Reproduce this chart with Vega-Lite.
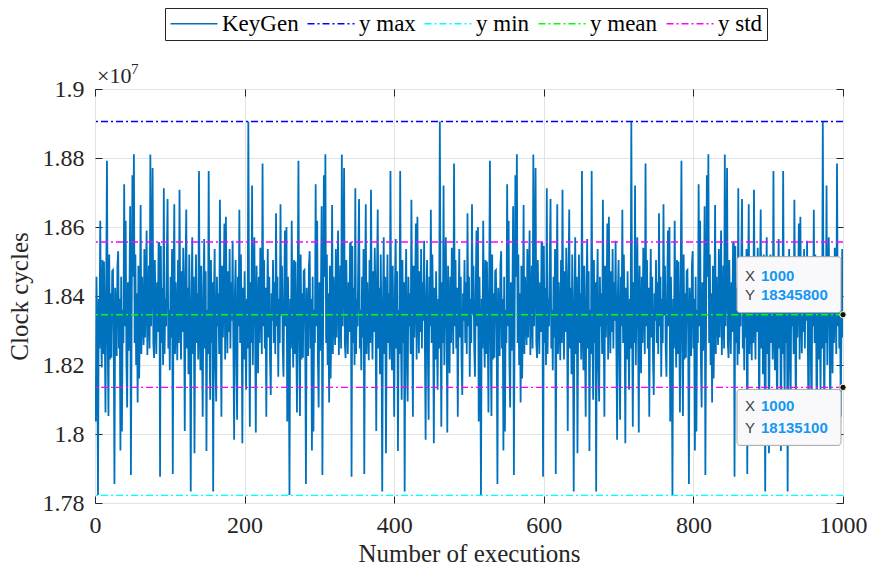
{
"$schema":"https://vega.github.io/schema/vega-lite/v6.json",
"width":748,"height":414,
"autosize":{"type":"none"},
"padding":{"left":95,"top":89,"right":28,"bottom":71},
"background":"white",
"config":{"view":{"stroke":"#262626","strokeWidth":1},"font":"Liberation Serif"},
"datasets":{
"ref":[{"s":"y max","v":18906},{"s":"y min","v":17822},{"s":"y mean","v":18345.8},{"s":"y std","v":18556.5},{"s":"y std","v":18135.1}],
"tip1":[{"x":1000,"y":18345.8,"xs":"1000","ys":"18345800"}],
"tip2":[{"x":1000,"y":18135.1,"xs":"1000","ys":"18135100"}],
"corner":[{"x":0,"y":19000}],
"kg":[
{"x":1,"y":18036},{"x":2,"y":18456},{"x":3,"y":18280},{"x":4,"y":17823},{"x":5,"y":18392},{"x":6,"y":18248},{"x":7,"y":18618},{"x":8,"y":18328},{"x":9,"y":18193},{"x":10,"y":18504},{"x":11,"y":18232},{"x":12,"y":18500},{"x":13,"y":18312},{"x":14,"y":18062},{"x":15,"y":18440},{"x":16,"y":18792},{"x":17,"y":18264},{"x":18,"y":18052},{"x":19,"y":18520},{"x":20,"y":18216},{"x":21,"y":18408},{"x":22,"y":18221},{"x":23,"y":18472},{"x":24,"y":18475},{"x":25,"y":18296},{"x":26,"y":17855},{"x":27,"y":18424},{"x":28,"y":18344},{"x":29,"y":18226},{"x":30,"y":18488},{"x":31,"y":18530},{"x":32,"y":18248},{"x":33,"y":18392},{"x":34,"y":17952},{"x":35,"y":18456},{"x":36,"y":18007},{"x":37,"y":18360},{"x":38,"y":18264},{"x":39,"y":18724},{"x":40,"y":18312},{"x":41,"y":18618},{"x":42,"y":18216},{"x":43,"y":18077},{"x":44,"y":18440},{"x":45,"y":18241},{"x":46,"y":18392},{"x":47,"y":18660},{"x":48,"y":17881},{"x":49,"y":18344},{"x":50,"y":18750},{"x":51,"y":18456},{"x":52,"y":18811},{"x":53,"y":18264},{"x":54,"y":18520},{"x":55,"y":18200},{"x":56,"y":18408},{"x":57,"y":18091},{"x":58,"y":18488},{"x":59,"y":18161},{"x":60,"y":18312},{"x":61,"y":18664},{"x":62,"y":18232},{"x":63,"y":18456},{"x":64,"y":18344},{"x":65,"y":18258},{"x":66,"y":18536},{"x":67,"y":18280},{"x":68,"y":18424},{"x":69,"y":18590},{"x":70,"y":18229},{"x":71,"y":18360},{"x":72,"y":18488},{"x":73,"y":18248},{"x":74,"y":18810},{"x":75,"y":18312},{"x":76,"y":18456},{"x":77,"y":18771},{"x":78,"y":18264},{"x":79,"y":18220},{"x":80,"y":18504},{"x":81,"y":18344},{"x":82,"y":18232},{"x":83,"y":18440},{"x":84,"y":18296},{"x":85,"y":18552},{"x":86,"y":18556},{"x":87,"y":17876},{"x":88,"y":18545},{"x":89,"y":18264},{"x":90,"y":18424},{"x":91,"y":18200},{"x":92,"y":18712},{"x":93,"y":18232},{"x":94,"y":18392},{"x":95,"y":18312},{"x":96,"y":18504},{"x":97,"y":18681},{"x":98,"y":18248},{"x":99,"y":18360},{"x":100,"y":18185},{"x":101,"y":18456},{"x":102,"y":18280},{"x":103,"y":18536},{"x":104,"y":17884},{"x":105,"y":18408},{"x":106,"y":18666},{"x":107,"y":18232},{"x":108,"y":18440},{"x":109,"y":18328},{"x":110,"y":18214},{"x":111,"y":18504},{"x":112,"y":18264},{"x":113,"y":18708},{"x":114,"y":18344},{"x":115,"y":18216},{"x":116,"y":18472},{"x":117,"y":18296},{"x":118,"y":18540},{"x":119,"y":18392},{"x":120,"y":18009},{"x":121,"y":18456},{"x":122,"y":18651},{"x":123,"y":18248},{"x":124,"y":18424},{"x":125,"y":18173},{"x":126,"y":18520},{"x":127,"y":18312},{"x":128,"y":17833},{"x":129,"y":18376},{"x":130,"y":18570},{"x":131,"y":18232},{"x":132,"y":18456},{"x":133,"y":17944},{"x":134,"y":18344},{"x":135,"y":18520},{"x":136,"y":18264},{"x":137,"y":18408},{"x":138,"y":18216},{"x":139,"y":18762},{"x":140,"y":18312},{"x":141,"y":18185},{"x":142,"y":18488},{"x":143,"y":18280},{"x":144,"y":18050},{"x":145,"y":18424},{"x":146,"y":18565},{"x":147,"y":18248},{"x":148,"y":18472},{"x":149,"y":17951},{"x":150,"y":18360},{"x":151,"y":18232},{"x":152,"y":18762},{"x":153,"y":18296},{"x":154,"y":18099},{"x":155,"y":18504},{"x":156,"y":18264},{"x":157,"y":18440},{"x":158,"y":17833},{"x":159,"y":18392},{"x":160,"y":18536},{"x":161,"y":18200},{"x":162,"y":18094},{"x":163,"y":18456},{"x":164,"y":18312},{"x":165,"y":18408},{"x":166,"y":18232},{"x":167,"y":18679},{"x":168,"y":18344},{"x":169,"y":18050},{"x":170,"y":18488},{"x":171,"y":18280},{"x":172,"y":18424},{"x":173,"y":18610},{"x":174,"y":18216},{"x":175,"y":18630},{"x":176,"y":18360},{"x":177,"y":18234},{"x":178,"y":18472},{"x":179,"y":18296},{"x":180,"y":18536},{"x":181,"y":18248},{"x":182,"y":18440},{"x":183,"y":18328},{"x":184,"y":18560},{"x":185,"y":18264},{"x":186,"y":17983},{"x":187,"y":18408},{"x":188,"y":18504},{"x":189,"y":18232},{"x":190,"y":18041},{"x":191,"y":18456},{"x":192,"y":18312},{"x":193,"y":18650},{"x":194,"y":18264},{"x":195,"y":18520},{"x":196,"y":18344},{"x":197,"y":17973},{"x":198,"y":18424},{"x":199,"y":18216},{"x":200,"y":18472},{"x":201,"y":18296},{"x":202,"y":18128},{"x":203,"y":18392},{"x":204,"y":18248},{"x":205,"y":18906},{"x":206,"y":18344},{"x":207,"y":18021},{"x":208,"y":18440},{"x":209,"y":18264},{"x":210,"y":18720},{"x":211,"y":18200},{"x":212,"y":18408},{"x":213,"y":18570},{"x":214,"y":18312},{"x":215,"y":18004},{"x":216,"y":18488},{"x":217,"y":18344},{"x":218,"y":18176},{"x":219,"y":18456},{"x":220,"y":18264},{"x":221,"y":18540},{"x":222,"y":18392},{"x":223,"y":18232},{"x":224,"y":18784},{"x":225,"y":18312},{"x":226,"y":18504},{"x":227,"y":18248},{"x":228,"y":18424},{"x":229,"y":18050},{"x":230,"y":18360},{"x":231,"y":18536},{"x":232,"y":18280},{"x":233,"y":18456},{"x":234,"y":18216},{"x":235,"y":18113},{"x":236,"y":18408},{"x":237,"y":18328},{"x":238,"y":18504},{"x":239,"y":18264},{"x":240,"y":18440},{"x":241,"y":18232},{"x":242,"y":18640},{"x":243,"y":18312},{"x":244,"y":18456},{"x":245,"y":18166},{"x":246,"y":18392},{"x":247,"y":18264},{"x":248,"y":18666},{"x":249,"y":18344},{"x":250,"y":18488},{"x":251,"y":18248},{"x":252,"y":18166},{"x":253,"y":18424},{"x":254,"y":18590},{"x":255,"y":18312},{"x":256,"y":18600},
{"x":257,"y":18036},{"x":258,"y":18456},{"x":259,"y":18280},{"x":260,"y":17823},{"x":261,"y":18392},{"x":262,"y":18248},{"x":263,"y":18618},{"x":264,"y":18328},{"x":265,"y":18193},{"x":266,"y":18504},{"x":267,"y":18232},{"x":268,"y":18500},{"x":269,"y":18312},{"x":270,"y":18062},{"x":271,"y":18440},{"x":272,"y":18792},{"x":273,"y":18264},{"x":274,"y":18052},{"x":275,"y":18520},{"x":276,"y":18216},{"x":277,"y":18408},{"x":278,"y":18221},{"x":279,"y":18472},{"x":280,"y":18475},{"x":281,"y":18296},{"x":282,"y":17855},{"x":283,"y":18424},{"x":284,"y":18344},{"x":285,"y":18226},{"x":286,"y":18488},{"x":287,"y":18530},{"x":288,"y":18248},{"x":289,"y":18392},{"x":290,"y":17952},{"x":291,"y":18456},{"x":292,"y":18007},{"x":293,"y":18360},{"x":294,"y":18264},{"x":295,"y":18724},{"x":296,"y":18312},{"x":297,"y":18618},{"x":298,"y":18216},{"x":299,"y":18077},{"x":300,"y":18440},{"x":301,"y":18241},{"x":302,"y":18392},{"x":303,"y":18660},{"x":304,"y":17881},{"x":305,"y":18344},{"x":306,"y":18750},{"x":307,"y":18456},{"x":308,"y":18811},{"x":309,"y":18264},{"x":310,"y":18520},{"x":311,"y":18200},{"x":312,"y":18408},{"x":313,"y":18091},{"x":314,"y":18488},{"x":315,"y":18161},{"x":316,"y":18312},{"x":317,"y":18664},{"x":318,"y":18232},{"x":319,"y":18456},{"x":320,"y":18344},{"x":321,"y":18258},{"x":322,"y":18536},{"x":323,"y":18280},{"x":324,"y":18424},{"x":325,"y":18590},{"x":326,"y":18229},{"x":327,"y":18360},{"x":328,"y":18488},{"x":329,"y":18248},{"x":330,"y":18810},{"x":331,"y":18312},{"x":332,"y":18456},{"x":333,"y":18771},{"x":334,"y":18264},{"x":335,"y":18220},{"x":336,"y":18504},{"x":337,"y":18344},{"x":338,"y":18232},{"x":339,"y":18440},{"x":340,"y":18296},{"x":341,"y":18552},{"x":342,"y":18556},{"x":343,"y":17876},{"x":344,"y":18545},{"x":345,"y":18264},{"x":346,"y":18424},{"x":347,"y":18200},{"x":348,"y":18712},{"x":349,"y":18232},{"x":350,"y":18392},{"x":351,"y":18312},{"x":352,"y":18504},{"x":353,"y":18681},{"x":354,"y":18248},{"x":355,"y":18360},{"x":356,"y":18185},{"x":357,"y":18456},{"x":358,"y":18280},{"x":359,"y":18536},{"x":360,"y":17884},{"x":361,"y":18408},{"x":362,"y":18666},{"x":363,"y":18232},{"x":364,"y":18440},{"x":365,"y":18328},{"x":366,"y":18214},{"x":367,"y":18504},{"x":368,"y":18264},{"x":369,"y":18708},{"x":370,"y":18344},{"x":371,"y":18216},{"x":372,"y":18472},{"x":373,"y":18296},{"x":374,"y":18540},{"x":375,"y":18392},{"x":376,"y":18009},{"x":377,"y":18456},{"x":378,"y":18651},{"x":379,"y":18248},{"x":380,"y":18424},{"x":381,"y":18173},{"x":382,"y":18520},{"x":383,"y":18312},{"x":384,"y":17833},{"x":385,"y":18376},{"x":386,"y":18570},{"x":387,"y":18232},{"x":388,"y":18456},{"x":389,"y":17944},{"x":390,"y":18344},{"x":391,"y":18520},{"x":392,"y":18264},{"x":393,"y":18408},{"x":394,"y":18216},{"x":395,"y":18762},{"x":396,"y":18312},{"x":397,"y":18185},{"x":398,"y":18488},{"x":399,"y":18280},{"x":400,"y":18050},{"x":401,"y":18424},{"x":402,"y":18565},{"x":403,"y":18248},{"x":404,"y":18472},{"x":405,"y":17951},{"x":406,"y":18360},{"x":407,"y":18232},{"x":408,"y":18762},{"x":409,"y":18296},{"x":410,"y":18099},{"x":411,"y":18504},{"x":412,"y":18264},{"x":413,"y":18440},{"x":414,"y":17833},{"x":415,"y":18392},{"x":416,"y":18536},{"x":417,"y":18200},{"x":418,"y":18094},{"x":419,"y":18456},{"x":420,"y":18312},{"x":421,"y":18408},{"x":422,"y":18232},{"x":423,"y":18679},{"x":424,"y":18344},{"x":425,"y":18050},{"x":426,"y":18488},{"x":427,"y":18280},{"x":428,"y":18424},{"x":429,"y":18610},{"x":430,"y":18216},{"x":431,"y":18630},{"x":432,"y":18360},{"x":433,"y":18234},{"x":434,"y":18472},{"x":435,"y":18296},{"x":436,"y":18536},{"x":437,"y":18248},{"x":438,"y":18440},{"x":439,"y":18328},{"x":440,"y":18560},{"x":441,"y":18264},{"x":442,"y":17983},{"x":443,"y":18408},{"x":444,"y":18504},{"x":445,"y":18232},{"x":446,"y":18041},{"x":447,"y":18456},{"x":448,"y":18312},{"x":449,"y":18650},{"x":450,"y":18264},{"x":451,"y":18520},{"x":452,"y":18344},{"x":453,"y":17973},{"x":454,"y":18424},{"x":455,"y":18216},{"x":456,"y":18472},{"x":457,"y":18296},{"x":458,"y":18128},{"x":459,"y":18392},{"x":460,"y":18248},{"x":461,"y":18906},{"x":462,"y":18344},{"x":463,"y":18021},{"x":464,"y":18440},{"x":465,"y":18264},{"x":466,"y":18720},{"x":467,"y":18200},{"x":468,"y":18408},{"x":469,"y":18570},{"x":470,"y":18312},{"x":471,"y":18004},{"x":472,"y":18488},{"x":473,"y":18344},{"x":474,"y":18176},{"x":475,"y":18456},{"x":476,"y":18264},{"x":477,"y":18540},{"x":478,"y":18392},{"x":479,"y":18232},{"x":480,"y":18784},{"x":481,"y":18312},{"x":482,"y":18504},{"x":483,"y":18248},{"x":484,"y":18424},{"x":485,"y":18050},{"x":486,"y":18360},{"x":487,"y":18536},{"x":488,"y":18280},{"x":489,"y":18456},{"x":490,"y":18216},{"x":491,"y":18113},{"x":492,"y":18408},{"x":493,"y":18328},{"x":494,"y":18504},{"x":495,"y":18264},{"x":496,"y":18440},{"x":497,"y":18232},{"x":498,"y":18640},{"x":499,"y":18312},{"x":500,"y":18456},{"x":501,"y":18166},{"x":502,"y":18392},{"x":503,"y":18264},{"x":504,"y":18666},{"x":505,"y":18344},{"x":506,"y":18488},{"x":507,"y":18248},{"x":508,"y":18166},{"x":509,"y":18424},{"x":510,"y":18590},{"x":511,"y":18312},{"x":512,"y":18600},
{"x":513,"y":18036},{"x":514,"y":18456},{"x":515,"y":18280},{"x":516,"y":17823},{"x":517,"y":18392},{"x":518,"y":18248},{"x":519,"y":18618},{"x":520,"y":18328},{"x":521,"y":18193},{"x":522,"y":18504},{"x":523,"y":18232},{"x":524,"y":18500},{"x":525,"y":18312},{"x":526,"y":18062},{"x":527,"y":18440},{"x":528,"y":18792},{"x":529,"y":18264},{"x":530,"y":18052},{"x":531,"y":18520},{"x":532,"y":18216},{"x":533,"y":18408},{"x":534,"y":18221},{"x":535,"y":18472},{"x":536,"y":18475},{"x":537,"y":18296},{"x":538,"y":17855},{"x":539,"y":18424},{"x":540,"y":18344},{"x":541,"y":18226},{"x":542,"y":18488},{"x":543,"y":18530},{"x":544,"y":18248},{"x":545,"y":18392},{"x":546,"y":17952},{"x":547,"y":18456},{"x":548,"y":18007},{"x":549,"y":18360},{"x":550,"y":18264},{"x":551,"y":18724},{"x":552,"y":18312},{"x":553,"y":18618},{"x":554,"y":18216},{"x":555,"y":18077},{"x":556,"y":18440},{"x":557,"y":18241},{"x":558,"y":18392},{"x":559,"y":18660},{"x":560,"y":17881},{"x":561,"y":18344},{"x":562,"y":18750},{"x":563,"y":18456},{"x":564,"y":18811},{"x":565,"y":18264},{"x":566,"y":18520},{"x":567,"y":18200},{"x":568,"y":18408},{"x":569,"y":18091},{"x":570,"y":18488},{"x":571,"y":18161},{"x":572,"y":18312},{"x":573,"y":18664},{"x":574,"y":18232},{"x":575,"y":18456},{"x":576,"y":18344},{"x":577,"y":18258},{"x":578,"y":18536},{"x":579,"y":18280},{"x":580,"y":18424},{"x":581,"y":18590},{"x":582,"y":18229},{"x":583,"y":18360},{"x":584,"y":18488},{"x":585,"y":18248},{"x":586,"y":18810},{"x":587,"y":18312},{"x":588,"y":18456},{"x":589,"y":18771},{"x":590,"y":18264},{"x":591,"y":18220},{"x":592,"y":18504},{"x":593,"y":18344},{"x":594,"y":18232},{"x":595,"y":18440},{"x":596,"y":18296},{"x":597,"y":18552},{"x":598,"y":18556},{"x":599,"y":17876},{"x":600,"y":18545},{"x":601,"y":18264},{"x":602,"y":18424},{"x":603,"y":18200},{"x":604,"y":18712},{"x":605,"y":18232},{"x":606,"y":18392},{"x":607,"y":18312},{"x":608,"y":18504},{"x":609,"y":18681},{"x":610,"y":18248},{"x":611,"y":18360},{"x":612,"y":18185},{"x":613,"y":18456},{"x":614,"y":18280},{"x":615,"y":18536},{"x":616,"y":17884},{"x":617,"y":18408},{"x":618,"y":18666},{"x":619,"y":18232},{"x":620,"y":18440},{"x":621,"y":18328},{"x":622,"y":18214},{"x":623,"y":18504},{"x":624,"y":18264},{"x":625,"y":18708},{"x":626,"y":18344},{"x":627,"y":18216},{"x":628,"y":18472},{"x":629,"y":18296},{"x":630,"y":18540},{"x":631,"y":18392},{"x":632,"y":18009},{"x":633,"y":18456},{"x":634,"y":18651},{"x":635,"y":18248},{"x":636,"y":18424},{"x":637,"y":18173},{"x":638,"y":18520},{"x":639,"y":18312},{"x":640,"y":17833},{"x":641,"y":18376},{"x":642,"y":18570},{"x":643,"y":18232},{"x":644,"y":18456},{"x":645,"y":17944},{"x":646,"y":18344},{"x":647,"y":18520},{"x":648,"y":18264},{"x":649,"y":18408},{"x":650,"y":18216},{"x":651,"y":18762},{"x":652,"y":18312},{"x":653,"y":18185},{"x":654,"y":18488},{"x":655,"y":18280},{"x":656,"y":18050},{"x":657,"y":18424},{"x":658,"y":18565},{"x":659,"y":18248},{"x":660,"y":18472},{"x":661,"y":17951},{"x":662,"y":18360},{"x":663,"y":18232},{"x":664,"y":18762},{"x":665,"y":18296},{"x":666,"y":18099},{"x":667,"y":18504},{"x":668,"y":18264},{"x":669,"y":18440},{"x":670,"y":17833},{"x":671,"y":18392},{"x":672,"y":18536},{"x":673,"y":18200},{"x":674,"y":18094},{"x":675,"y":18456},{"x":676,"y":18312},{"x":677,"y":18408},{"x":678,"y":18232},{"x":679,"y":18679},{"x":680,"y":18344},{"x":681,"y":18050},{"x":682,"y":18488},{"x":683,"y":18280},{"x":684,"y":18424},{"x":685,"y":18610},{"x":686,"y":18216},{"x":687,"y":18630},{"x":688,"y":18360},{"x":689,"y":18234},{"x":690,"y":18472},{"x":691,"y":18296},{"x":692,"y":18536},{"x":693,"y":18248},{"x":694,"y":18440},{"x":695,"y":18328},{"x":696,"y":18560},{"x":697,"y":18264},{"x":698,"y":17983},{"x":699,"y":18408},{"x":700,"y":18504},{"x":701,"y":18232},{"x":702,"y":18041},{"x":703,"y":18456},{"x":704,"y":18312},{"x":705,"y":18650},{"x":706,"y":18264},{"x":707,"y":18520},{"x":708,"y":18344},{"x":709,"y":17973},{"x":710,"y":18424},{"x":711,"y":18216},{"x":712,"y":18472},{"x":713,"y":18296},{"x":714,"y":18128},{"x":715,"y":18392},{"x":716,"y":18248},{"x":717,"y":18906},{"x":718,"y":18344},{"x":719,"y":18021},{"x":720,"y":18440},{"x":721,"y":18264},{"x":722,"y":18720},{"x":723,"y":18200},{"x":724,"y":18408},{"x":725,"y":18570},{"x":726,"y":18312},{"x":727,"y":18004},{"x":728,"y":18488},{"x":729,"y":18344},{"x":730,"y":18176},{"x":731,"y":18456},{"x":732,"y":18264},{"x":733,"y":18540},{"x":734,"y":18392},{"x":735,"y":18232},{"x":736,"y":18784},{"x":737,"y":18312},{"x":738,"y":18504},{"x":739,"y":18248},{"x":740,"y":18424},{"x":741,"y":18050},{"x":742,"y":18360},{"x":743,"y":18536},{"x":744,"y":18280},{"x":745,"y":18456},{"x":746,"y":18216},{"x":747,"y":18113},{"x":748,"y":18408},{"x":749,"y":18328},{"x":750,"y":18504},{"x":751,"y":18264},{"x":752,"y":18440},{"x":753,"y":18232},{"x":754,"y":18640},{"x":755,"y":18312},{"x":756,"y":18456},{"x":757,"y":18166},{"x":758,"y":18392},{"x":759,"y":18264},{"x":760,"y":18666},{"x":761,"y":18344},{"x":762,"y":18488},{"x":763,"y":18248},{"x":764,"y":18166},{"x":765,"y":18424},{"x":766,"y":18590},{"x":767,"y":18312},{"x":768,"y":18600},
{"x":769,"y":18036},{"x":770,"y":18456},{"x":771,"y":18280},{"x":772,"y":17823},{"x":773,"y":18392},{"x":774,"y":18248},{"x":775,"y":18618},{"x":776,"y":18328},{"x":777,"y":18193},{"x":778,"y":18504},{"x":779,"y":18232},{"x":780,"y":18500},{"x":781,"y":18312},{"x":782,"y":18062},{"x":783,"y":18440},{"x":784,"y":18792},{"x":785,"y":18264},{"x":786,"y":18052},{"x":787,"y":18520},{"x":788,"y":18216},{"x":789,"y":18408},{"x":790,"y":18221},{"x":791,"y":18472},{"x":792,"y":18475},{"x":793,"y":18296},{"x":794,"y":17855},{"x":795,"y":18424},{"x":796,"y":18344},{"x":797,"y":18226},{"x":798,"y":18488},{"x":799,"y":18530},{"x":800,"y":18248},{"x":801,"y":18392},{"x":802,"y":17952},{"x":803,"y":18456},{"x":804,"y":18007},{"x":805,"y":18360},{"x":806,"y":18264},{"x":807,"y":18724},{"x":808,"y":18312},{"x":809,"y":18618},{"x":810,"y":18216},{"x":811,"y":18077},{"x":812,"y":18440},{"x":813,"y":18241},{"x":814,"y":18392},{"x":815,"y":18660},{"x":816,"y":17881},{"x":817,"y":18344},{"x":818,"y":18750},{"x":819,"y":18456},{"x":820,"y":18811},{"x":821,"y":18264},{"x":822,"y":18520},{"x":823,"y":18200},{"x":824,"y":18408},{"x":825,"y":18091},{"x":826,"y":18488},{"x":827,"y":18161},{"x":828,"y":18312},{"x":829,"y":18664},{"x":830,"y":18232},{"x":831,"y":18456},{"x":832,"y":18344},{"x":833,"y":18258},{"x":834,"y":18536},{"x":835,"y":18280},{"x":836,"y":18424},{"x":837,"y":18590},{"x":838,"y":18229},{"x":839,"y":18360},{"x":840,"y":18488},{"x":841,"y":18248},{"x":842,"y":18810},{"x":843,"y":18312},{"x":844,"y":18456},{"x":845,"y":18771},{"x":846,"y":18264},{"x":847,"y":18220},{"x":848,"y":18504},{"x":849,"y":18344},{"x":850,"y":18232},{"x":851,"y":18440},{"x":852,"y":18296},{"x":853,"y":18552},{"x":854,"y":18556},{"x":855,"y":17876},{"x":856,"y":18545},{"x":857,"y":18264},{"x":858,"y":18424},{"x":859,"y":18200},{"x":860,"y":18712},{"x":861,"y":18232},{"x":862,"y":18392},{"x":863,"y":18312},{"x":864,"y":18504},{"x":865,"y":18681},{"x":866,"y":18248},{"x":867,"y":18360},{"x":868,"y":18185},{"x":869,"y":18456},{"x":870,"y":18280},{"x":871,"y":18536},{"x":872,"y":17884},{"x":873,"y":18408},{"x":874,"y":18666},{"x":875,"y":18232},{"x":876,"y":18440},{"x":877,"y":18328},{"x":878,"y":18214},{"x":879,"y":18504},{"x":880,"y":18264},{"x":881,"y":18708},{"x":882,"y":18344},{"x":883,"y":18216},{"x":884,"y":18472},{"x":885,"y":18296},{"x":886,"y":18540},{"x":887,"y":18392},{"x":888,"y":18009},{"x":889,"y":18456},{"x":890,"y":18651},{"x":891,"y":18248},{"x":892,"y":18424},{"x":893,"y":18173},{"x":894,"y":18520},{"x":895,"y":18312},{"x":896,"y":17833},{"x":897,"y":18376},{"x":898,"y":18570},{"x":899,"y":18232},{"x":900,"y":18456},{"x":901,"y":17944},{"x":902,"y":18344},{"x":903,"y":18520},{"x":904,"y":18264},{"x":905,"y":18408},{"x":906,"y":18216},{"x":907,"y":18762},{"x":908,"y":18312},{"x":909,"y":18185},{"x":910,"y":18488},{"x":911,"y":18280},{"x":912,"y":18050},{"x":913,"y":18424},{"x":914,"y":18565},{"x":915,"y":18248},{"x":916,"y":18472},{"x":917,"y":17951},{"x":918,"y":18360},{"x":919,"y":18232},{"x":920,"y":18762},{"x":921,"y":18296},{"x":922,"y":18099},{"x":923,"y":18504},{"x":924,"y":18264},{"x":925,"y":18440},{"x":926,"y":17833},{"x":927,"y":18392},{"x":928,"y":18536},{"x":929,"y":18200},{"x":930,"y":18094},{"x":931,"y":18456},{"x":932,"y":18312},{"x":933,"y":18408},{"x":934,"y":18232},{"x":935,"y":18679},{"x":936,"y":18344},{"x":937,"y":18050},{"x":938,"y":18488},{"x":939,"y":18280},{"x":940,"y":18424},{"x":941,"y":18610},{"x":942,"y":18216},{"x":943,"y":18630},{"x":944,"y":18360},{"x":945,"y":18234},{"x":946,"y":18472},{"x":947,"y":18296},{"x":948,"y":18536},{"x":949,"y":18248},{"x":950,"y":18440},{"x":951,"y":18328},{"x":952,"y":18560},{"x":953,"y":18264},{"x":954,"y":17983},{"x":955,"y":18408},{"x":956,"y":18504},{"x":957,"y":18232},{"x":958,"y":18041},{"x":959,"y":18456},{"x":960,"y":18312},{"x":961,"y":18650},{"x":962,"y":18264},{"x":963,"y":18520},{"x":964,"y":18344},{"x":965,"y":17973},{"x":966,"y":18424},{"x":967,"y":18216},{"x":968,"y":18472},{"x":969,"y":18296},{"x":970,"y":18128},{"x":971,"y":18392},{"x":972,"y":18248},{"x":973,"y":18906},{"x":974,"y":18344},{"x":975,"y":18021},{"x":976,"y":18440},{"x":977,"y":18264},{"x":978,"y":18720},{"x":979,"y":18200},{"x":980,"y":18408},{"x":981,"y":18570},{"x":982,"y":18312},{"x":983,"y":18004},{"x":984,"y":18488},{"x":985,"y":18344},{"x":986,"y":18176},{"x":987,"y":18456},{"x":988,"y":18264},{"x":989,"y":18540},{"x":990,"y":18392},{"x":991,"y":18232},{"x":992,"y":18784},{"x":993,"y":18312},{"x":994,"y":18504},{"x":995,"y":18248},{"x":996,"y":18424},{"x":997,"y":18050},{"x":998,"y":18360},{"x":999,"y":18536},{"x":1000,"y":18280}
]},
"resolve":{"axis":{"x":"independent","y":"independent"}},
"layer":[
{"data":{"name":"kg"},
 "mark":{"type":"line","strokeWidth":1.8,"clip":true},
 "encoding":{
  "x":{"field":"x","type":"quantitative","scale":{"domain":[0,1000],"nice":false,"zero":false},
   "axis":{"orient":"bottom","values":[0,200,400,600,800,1000],"format":"d","title":"Number of executions","grid":true,"gridColor":"#e3e3e3","domain":false,"tickSize":-7,"tickColor":"#262626","labelPadding":17,"labelFlush":false,"labelOverlap":false,"labelFont":"Liberation Serif","labelFontSize":24,"labelColor":"#262626","titleFont":"Liberation Serif","titleFontSize":25,"titleFontWeight":"normal","titleColor":"#262626","titlePadding":4}},
  "y":{"field":"y","type":"quantitative","scale":{"domain":[17800,19000],"nice":false,"zero":false},
   "axis":{"orient":"left","values":[17800,18000,18200,18400,18600,18800,19000],"labelExpr":"datum.value/10000 + ''","title":"Clock cycles","grid":true,"gridColor":"#e3e3e3","domain":false,"tickSize":-7,"tickColor":"#262626","labelPadding":18,"labelFlush":false,"labelOverlap":false,"labelFont":"Liberation Serif","labelFontSize":24,"labelColor":"#262626","titleFont":"Liberation Serif","titleFontSize":25,"titleFontWeight":"normal","titleColor":"#262626","titlePadding":10}},
  "color":{"datum":"KeyGen","type":"nominal",
   "scale":{"domain":["KeyGen","y max","y min","y mean","y std"],"range":["#0072BD","#0000FF","#00FFFF","#00FF00","#FF00FF"]},
   "legend":{"title":null,"orient":"none","legendX":70,"legendY":-81,"direction":"horizontal","columns":5,"symbolType":"M-1,0H3.7","symbolSize":400,"symbolStrokeWidth":1.5,"labelFont":"Liberation Serif","labelFontSize":23,"labelColor":"#000000","labelOffset":30,"labelLimit":0,"columnPadding":5,"padding":4,"strokeColor":"#262626","fillColor":"white",
    "encode":{"symbols":{"update":{"strokeDash":{"signal":"datum.value === 'KeyGen' ? [1,0] : [7,3,2,3]"}}}}}}
 }},
{"data":{"name":"ref"},
 "mark":{"type":"rule","strokeWidth":1.4,"strokeDash":[7,3,2,3]},
 "encoding":{
  "y":{"field":"v","type":"quantitative","axis":{"orient":"right","values":[17800,18000,18200,18400,18600,18800,19000],"labels":false,"grid":false,"domain":false,"tickSize":-7,"tickColor":"#262626","title":null}},
  "color":{"field":"s","type":"nominal","legend":{"title":null}}
 }},
{"data":{"name":"corner"},
 "mark":{"type":"text","text":"×10","align":"left","baseline":"middle","dx":2,"dy":-13,"font":"Liberation Serif","fontSize":22,"color":"#262626"},
 "encoding":{
  "x":{"field":"x","type":"quantitative","axis":{"orient":"top","values":[0,200,400,600,800,1000],"labels":false,"grid":false,"domain":false,"tickSize":-7,"tickColor":"#262626","title":null}},
  "y":{"field":"y","type":"quantitative","axis":null}
 }},
{"data":{"name":"corner"},
 "mark":{"type":"text","text":"7","align":"left","baseline":"middle","dx":36,"dy":-20,"font":"Liberation Serif","fontSize":15,"color":"#262626"},
 "encoding":{"x":{"field":"x","type":"quantitative","axis":null},"y":{"field":"y","type":"quantitative","axis":null}}},
{"data":{"name":"tip1"},
 "mark":{"type":"rect","xOffset":-106,"x2Offset":-2,"yOffset":-58,"y2Offset":-2,"fill":"#f9f9fc","stroke":"#a6a6a6","strokeWidth":1,"cornerRadius":3},
 "encoding":{"x":{"field":"x","type":"quantitative","axis":null},"x2":{"field":"x"},"y":{"field":"y","type":"quantitative","axis":null},"y2":{"field":"y"}}},
{"data":{"name":"tip1"},
 "mark":{"type":"text","text":"X","align":"left","baseline":"middle","dx":-98,"dy":-39,"font":"Liberation Sans","fontSize":15,"color":"#404040"},
 "encoding":{"x":{"field":"x","type":"quantitative","axis":null},"y":{"field":"y","type":"quantitative","axis":null}}},
{"data":{"name":"tip1"},
 "mark":{"type":"text","text":"Y","align":"left","baseline":"middle","dx":-98,"dy":-20,"font":"Liberation Sans","fontSize":15,"color":"#404040"},
 "encoding":{"x":{"field":"x","type":"quantitative","axis":null},"y":{"field":"y","type":"quantitative","axis":null}}},
{"data":{"name":"tip1"},
 "mark":{"type":"text","align":"left","baseline":"middle","dx":-82,"dy":-39,"font":"Liberation Sans","fontSize":15,"fontWeight":"bold","color":"#1597f2"},
 "encoding":{"x":{"field":"x","type":"quantitative","axis":null},"y":{"field":"y","type":"quantitative","axis":null},"text":{"field":"xs"}}},
{"data":{"name":"tip1"},
 "mark":{"type":"text","align":"left","baseline":"middle","dx":-82,"dy":-20,"font":"Liberation Sans","fontSize":15,"fontWeight":"bold","color":"#1597f2"},
 "encoding":{"x":{"field":"x","type":"quantitative","axis":null},"y":{"field":"y","type":"quantitative","axis":null},"text":{"field":"ys"}}},
{"data":{"name":"tip2"},
 "mark":{"type":"rect","xOffset":-106,"x2Offset":-2,"yOffset":2,"y2Offset":58,"fill":"#f9f9fc","stroke":"#a6a6a6","strokeWidth":1,"cornerRadius":3},
 "encoding":{"x":{"field":"x","type":"quantitative","axis":null},"x2":{"field":"x"},"y":{"field":"y","type":"quantitative","axis":null},"y2":{"field":"y"}}},
{"data":{"name":"tip2"},
 "mark":{"type":"text","text":"X","align":"left","baseline":"middle","dx":-98,"dy":19,"font":"Liberation Sans","fontSize":15,"color":"#404040"},
 "encoding":{"x":{"field":"x","type":"quantitative","axis":null},"y":{"field":"y","type":"quantitative","axis":null}}},
{"data":{"name":"tip2"},
 "mark":{"type":"text","text":"Y","align":"left","baseline":"middle","dx":-98,"dy":41,"font":"Liberation Sans","fontSize":15,"color":"#404040"},
 "encoding":{"x":{"field":"x","type":"quantitative","axis":null},"y":{"field":"y","type":"quantitative","axis":null}}},
{"data":{"name":"tip2"},
 "mark":{"type":"text","align":"left","baseline":"middle","dx":-82,"dy":19,"font":"Liberation Sans","fontSize":15,"fontWeight":"bold","color":"#1597f2"},
 "encoding":{"x":{"field":"x","type":"quantitative","axis":null},"y":{"field":"y","type":"quantitative","axis":null},"text":{"field":"xs"}}},
{"data":{"name":"tip2"},
 "mark":{"type":"text","align":"left","baseline":"middle","dx":-82,"dy":41,"font":"Liberation Sans","fontSize":15,"fontWeight":"bold","color":"#1597f2"},
 "encoding":{"x":{"field":"x","type":"quantitative","axis":null},"y":{"field":"y","type":"quantitative","axis":null},"text":{"field":"ys"}}},
{"data":{"values":[{"x":1000,"y":18345.8},{"x":1000,"y":18135.1}]},
 "mark":{"type":"point","shape":"circle","filled":true,"size":40,"fill":"#111111","stroke":"#ffffcc","strokeWidth":1,"opacity":1},
 "encoding":{"x":{"field":"x","type":"quantitative","axis":null},"y":{"field":"y","type":"quantitative","axis":null}}}
]
}
